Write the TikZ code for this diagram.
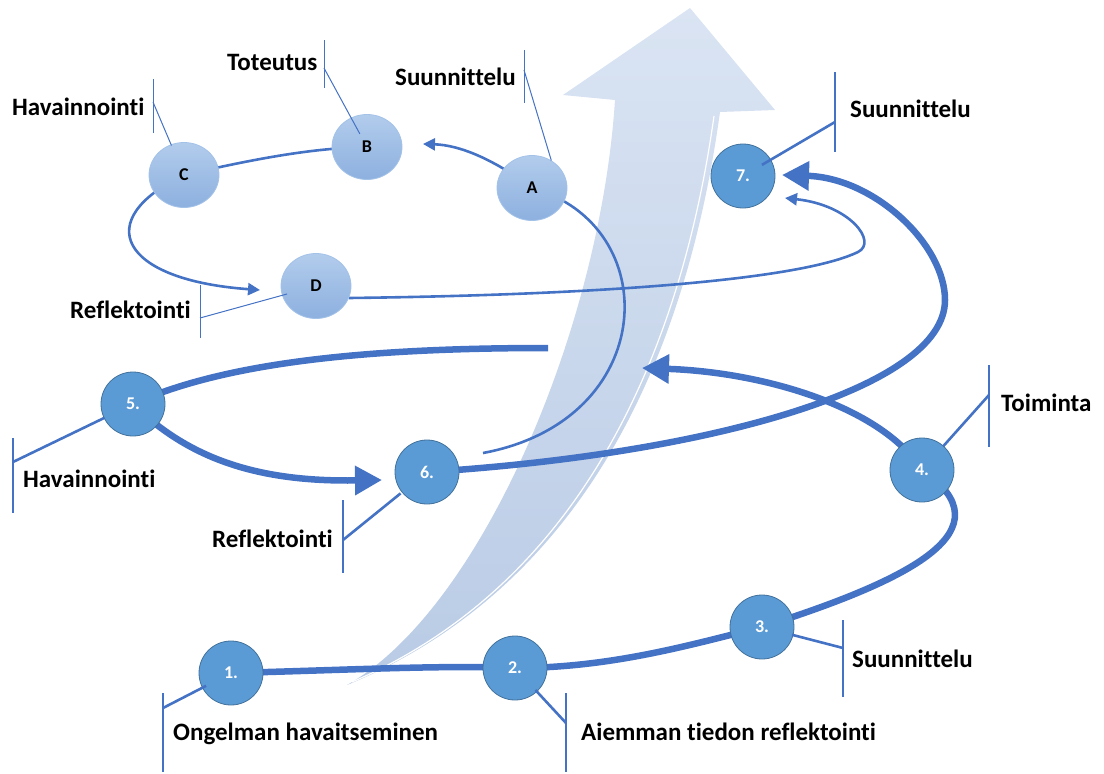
\documentclass[tikz,border=0pt]{standalone}
\usepackage{fontspec}
\setmainfont{Carlito}[Ligatures={NoCommon}]
\usetikzlibrary{arrows.meta, shapes.geometric}

\definecolor{linkblue}{HTML}{4472C4}
\definecolor{numfill}{HTML}{5B9BD5}
\definecolor{numedge}{HTML}{41719C}
\definecolor{ltrtop}{HTML}{B2CCEC}
\definecolor{ltrbot}{HTML}{8DB0DF}
\definecolor{ltredge}{HTML}{A3C2E8}
\definecolor{shafttop}{HTML}{DAE4F3}
\definecolor{shaftbot}{HTML}{B9CBE5}

\pgfdeclarelayer{back}
\pgfdeclarelayer{links}
\pgfsetlayers{back,links,main}

\begin{document}
\begin{tikzpicture}[x=1pt, y=-1pt,
  ltr/.style={ellipse, draw=ltredge, line width=0.8pt, top color=ltrtop, bottom color=ltrbot,
              minimum width=70pt, minimum height=65pt, inner sep=0pt,
              font=\bfseries\fontsize{18}{20}\selectfont},
  num/.style={circle, draw=numedge, line width=0.8pt, fill=numfill, minimum size=64pt,
              inner sep=0pt, text=white, font=\bfseries\fontsize{18}{20}\selectfont},
  tag/.style={inner sep=0pt, anchor=base west, font=\bfseries\fontsize{25}{30}\selectfont},
  link/.style={linkblue, line width=2.6pt},
  linkarr/.style={link, -{Triangle[length=12pt, width=12pt]}},
  wide/.style={linkblue, line width=6.5pt},
  widearr/.style={wide, -{Triangle[length=27pt, width=28pt]}},
  hair/.style={linkblue, line width=1pt},
  barline/.style={linkblue, line width=2.6pt}
]
\useasboundingbox (0,0) rectangle (1104,774);

% rising arrow in the back
\begin{pgfonlayer}{back}
\shade[top color=shafttop, bottom color=shaftbot]
  (690,8) -- (775,110) -- (720,112) .. controls (690,330) and (600,580) .. (347,685)
  .. controls (480,610) and (600,330) .. (615,100) -- (563,95) -- cycle;
\draw[white, line width=1.2pt] (714,116) .. controls (684,330) and (594,578) .. (352,682);
\end{pgfonlayer}

% small cycle
\node[ltr] (nC) at (184,175) {C};
\node[ltr] (nB) at (367,147) {B};
\node[ltr] (nA) at (532,188) {A};
\node[ltr] (nD) at (316,286) {D};

% numbered steps
\node[num] (n1) at (231,673) {1.};
\node[num] (n2) at (515,668) {2.};
\node[num] (n3) at (762,627) {3.};
\node[num] (n4) at (922,470) {4.};
\node[num] (n5) at (133,404) {5.};
\node[num] (n6) at (427,472) {6.};
\node[num] (n7) at (743,176) {7.};

\coordinate (endA) at (483,453);
\coordinate (end5) at (548,348);
\coordinate (tip4) at (642,368);

\begin{pgfonlayer}{links}
\draw[link] (nC.center) .. controls (250,160) and (310,148) .. (nB.center);
\draw[linkarr] (nA.center) .. controls (495,160) and (460,145) .. ([xshift=56pt,yshift=3pt]nB.center);
\draw[linkarr] (nC.center) .. controls (90,220) and (120,280) .. ([xshift=-56pt,yshift=-4pt]nD.center);
\draw[linkarr] (nD.-20) .. controls (600,295) and (800,280) .. (858,252)
  .. controls (878,242) and (850,205) .. ([xshift=42pt,yshift=-22pt]n7.center);
\draw[link] (nA.center) .. controls (665,225) and (660,420) .. (endA);

\draw[wide] (n1.center) .. controls (350,670) and (440,665) .. (n2.center)
  .. controls (610,668) and (690,645) .. (n3.center)
  .. controls (910,580) and (1010,530) .. (n4.center);
\draw[widearr] (n4.center) .. controls (880,405) and (760,372) .. (tip4);
\draw[wide] (n5.center) .. controls (230,360) and (380,348) .. (end5);
\draw[widearr] (n5.center) .. controls (190,460) and (260,482) .. ([xshift=-45pt,yshift=-8pt]n6.center);
\draw[widearr] (n6.center) .. controls (700,455) and (945,390) .. (945,300)
  .. controls (945,245) and (875,178) .. ([xshift=39pt,yshift=1pt]n7.center);
\end{pgfonlayer}

% labels
\node[tag] (lC) at (12,115)  {Havainnointi};
\node[tag] (lB) at (227,70)  {Toteutus};
\node[tag] (lA) at (395,85)  {Suunnittelu};
\node[tag] (lD) at (70,318)  {Reflektointi};
\node[tag] (l7) at (850,117) {Suunnittelu};
\node[tag] (l4) at (1001,411) {Toiminta};
\node[tag] (l5) at (23,487)  {Havainnointi};
\node[tag] (l6) at (212,547) {Reflektointi};
\node[tag] (l1) at (173,740) {Ongelman havaitseminen};
\node[tag] (l2) at (581,740) {Aiemman tiedon reflektointi};
\node[tag] (l3) at (852,667) {Suunnittelu};

% callout bars
\foreach \j/\x/\a/\b/\m in {jC/153/79/133/102, jB/324/40/88/68, jA/524/50/103/70, jD/200/285/338/318} {
  \coordinate (\j) at (\x,\m);
  \draw[hair] (\x,\a) -- (\x,\b);
}
\foreach \j/\x/\a/\b/\m in {j7/835/72/152/122, j4/989/365/447/395, j5/13/438/513/462,
                            j6/343/500/573/540, j1/163/693/772/708, j2/566/693/772/723, j3/843/620/697/648} {
  \coordinate (\j) at (\x,\m);
  \draw[barline] (\x,\a) -- (\x,\b);
}
\draw[hair, shorten >=32pt] (jC) -- (nC.center);
\draw[hair, shorten >=15pt] (jB) -- (nB.center);
\draw[hair] (jA) -- (nA.55);
\draw[hair, shorten >=30pt] (jD) -- (nD.center);
\foreach \j/\n/\s in {j7/n7/22, j4/n4/32, j5/n5/32, j6/n6/34, j1/n1/28, j2/n2/30, j3/n3/31}
  \draw[barline, shorten >=\s pt] (\j) -- (\n.center);
\end{tikzpicture}
\end{document}
